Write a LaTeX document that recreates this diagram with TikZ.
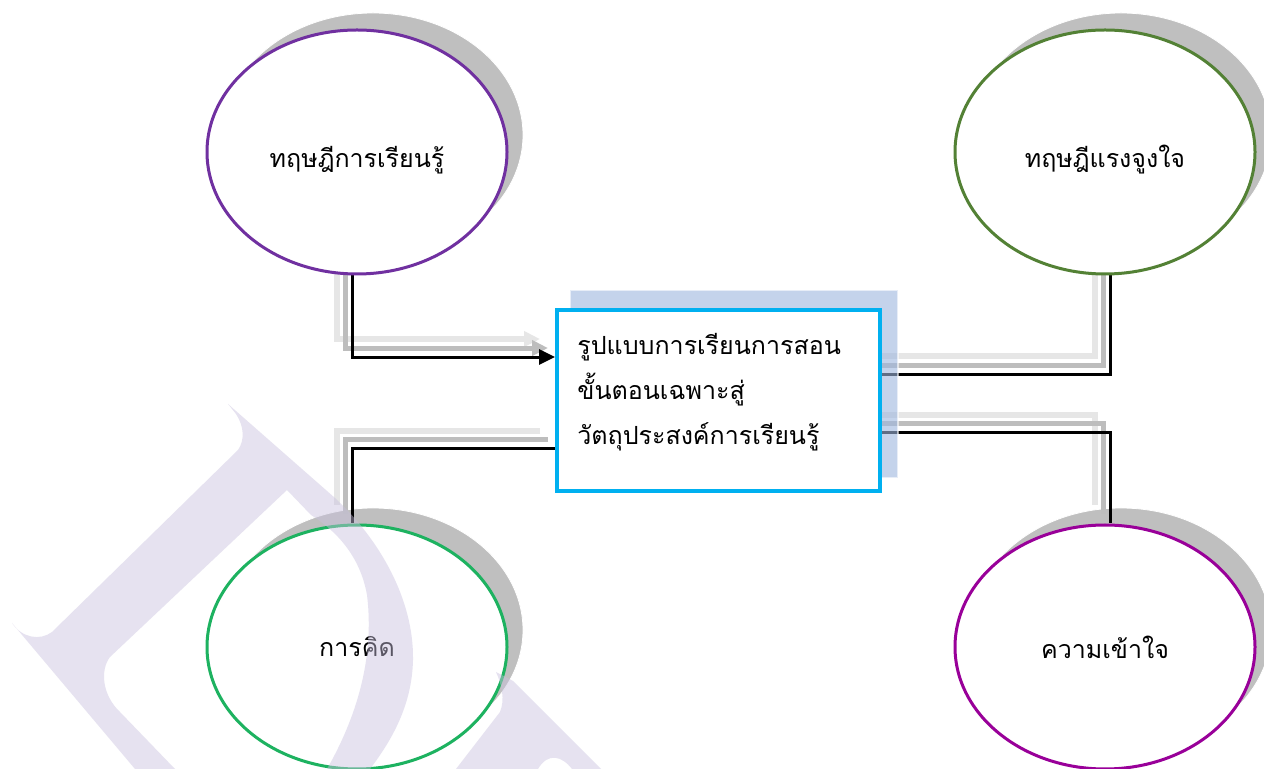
\documentclass[tikz,border=0pt]{standalone}
\usepackage{fontspec}
\newfontfamily\thaifont[Script=Thai]{Loma}
\usetikzlibrary{shapes.geometric,arrows.meta,calc}
\pgfdeclarelayer{bg}
\pgfdeclarelayer{lines}
\pgfdeclarelayer{wm}
\pgfsetlayers{bg,lines,main,wm}
\definecolor{tlc}{HTML}{7030A0}
\definecolor{trc}{HTML}{538135}
\definecolor{blc}{HTML}{1DB260}
\definecolor{brc}{HTML}{990099}
\definecolor{boxc}{HTML}{00B0F0}
\definecolor{boxsh}{RGB}{158,183,223}
\definecolor{shgray}{HTML}{BFBFBF}
\definecolor{lnA}{HTML}{BDBDBD}
\definecolor{lnB}{HTML}{E6E6E6}
\definecolor{wmc}{RGB}{200,192,222}
\begin{document}
\begin{tikzpicture}[x=0.5pt,y=-0.5pt,
  thaitext/.style={font=\thaifont\fontsize{12.5}{22.5}\selectfont, text=black},
  oval/.style={ellipse, draw, line width=1.5pt, fill=white, minimum width=150pt, minimum height=122pt, inner sep=0pt, thaitext},
  lowtext/.style={text height=16pt, text depth=0pt},
  ovalshadow/.style={ellipse, fill=shgray, draw=white, line width=0.4pt, minimum width=150pt, minimum height=122pt, inner sep=0pt},
  conn/.style={draw=black, line width=1.5pt},
  shA/.style={draw=lnA, line width=2.5pt, transform canvas={shift={(-3.5pt,4.5pt)}}},
  shB/.style={draw=lnB, line width=3pt, transform canvas={shift={(-7.5pt,9pt)}}},
  tipA/.style={-{Triangle[length=8pt,width=7.5pt]}},
  boxshadow/.style={rectangle, fill=boxsh, fill opacity=0.6, draw=white, draw opacity=0.6, line width=0.6pt, minimum width=164pt, minimum height=94pt, inner sep=0pt},
  mainbox/.style={rectangle, draw=boxc, line width=2pt, fill=white, minimum width=161.5pt, minimum height=90.5pt, inner sep=0pt},
  boxtext/.style={thaitext, align=left, inner sep=0pt, anchor=west}
]
\useasboundingbox (0,0) rectangle (1264,769);
\begin{pgfonlayer}{bg}
  \fill[white] (0,0) rectangle (1264,769);
  \node[ovalshadow] (tlS) at (373,135) {};
  \node[ovalshadow] (trS) at (1121,135) {};
  \node[ovalshadow] (blS) at (373,630) {};
  \node[ovalshadow] (brS) at (1121,630) {};
\end{pgfonlayer}

% shadow rectangle and box
\node[boxshadow] (boxS) at (734,384) {};
\node[mainbox] (box) at (718.5,400.5) {};
\node[boxtext] (lbl) at (577,392) {รูปแบบการเรียนการสอน\\ขั้นตอนเฉพาะสู่\\วัตถุประสงค์การเรียนรู้};

% ellipses
\node[oval, lowtext, draw=tlc] (tl) at (357,152) {ทฤษฎีการเรียนรู้};
\node[oval, lowtext, draw=trc] (tr) at (1105,152) {ทฤษฎีแรงจูงใจ};
\node[oval, draw=blc] (bl) at (357,647) {การคิด};
\node[oval, draw=brc] (br) at (1105,647) {ความเข้าใจ};

% attachment points
\coordinate (tlo) at ($(tl.south)+(-5,0)$);
\coordinate (tro) at ($(tr.south)+(5,0)$);
\coordinate (blo) at ($(bl.north)+(-5,0)$);
\coordinate (bro) at ($(br.north)+(5,0)$);
\coordinate (l1) at ($(box.north west)!0.265!(box.south west)$);
\coordinate (l2) at ($(box.north west)!0.762!(box.south west)$);
\coordinate (r1) at ($(box.north east)!0.359!(box.south east)$);
\coordinate (r2) at ($(box.north east)!0.674!(box.south east)$);

\begin{pgfonlayer}{lines}
  % light shadows
  \draw[shB, tipA] (tlo) |- (l1);
  \draw[shB] (tro) |- (r1);
  \draw[shB] (r2) -| (bro);
  \draw[shB] (l2) -| (blo);
  % mid shadows
  \draw[shA, tipA] (tlo) |- (l1);
  \draw[shA] (tro) |- (r1);
  \draw[shA] (r2) -| (bro);
  \draw[shA] (l2) -| (blo);
  % connectors
  \draw[conn, tipA] (tlo) |- (l1);
  \draw[conn] (tro) |- (r1);
  \draw[conn] (r2) -| (bro);
  \draw[conn] (l2) -| (blo);
\end{pgfonlayer}

% watermark
\begin{pgfonlayer}{wm}
  \begin{scope}
    \clip (0,0) rectangle (1264,769);
    \fill[wmc, fill opacity=0.45, even odd rule]
      (228,404) -- (236,414) .. controls (244,426) and (245,440) .. (238,450)
      -- (52,632) .. controls (40,641) and (22,638) .. (12,623)
      -- (135,769) -- (370,769)
      .. controls (392,740) and (412,705) .. (413,660)
      .. controls (414,600) and (380,540) .. (335,498) -- cycle
      (287,490) -- (110,657) .. controls (100,670) and (102,695) .. (120,712)
      -- (175,769) -- (327,769)
      .. controls (355,720) and (375,660) .. (367,595)
      .. controls (360,555) and (335,530) .. (311,515) -- cycle;
    \fill[wmc, fill opacity=0.45]
      (496,672) -- (513,681) -- (601,769) -- (572,769)
      .. controls (562,756) and (548,752) .. (538,769)
      -- (456,769) -- (500,712) .. controls (505,700) and (502,685) .. cycle;
  \end{scope}
\end{pgfonlayer}
\end{tikzpicture}
\end{document}
